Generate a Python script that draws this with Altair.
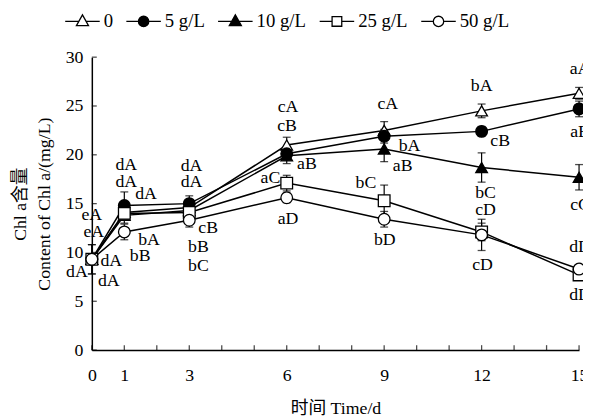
import altair as alt
import pandas as pd

# ---------------- data ----------------
days = [0, 1, 3, 6, 9, 12, 15]
series_names = ["0", "5 g/L", "10 g/L", "25 g/L", "50 g/L"]

chl_0 = [9.3, 14.1, 14.6, 21.0, 22.5, 24.5, 26.3]
chl_5 = [9.3, 14.8, 15.0, 20.1, 21.9, 22.4, 24.7]
chl_10 = [9.3, 13.8, 14.3, 19.9, 20.6, 18.7, 17.7]
chl_25 = [9.3, 14.0, 14.1, 17.1, 15.3, 12.1, 7.7]
chl_50 = [9.3, 12.1, 13.3, 15.6, 13.4, 11.8, 8.3]

err_0 = [1.5, 0.6, 0.5, 0.8, 0.9, 0.7, 0.6]
err_5 = [0.3, 1.4, 0.8, 0.6, 0.7, 0.5, 0.8]
err_10 = [0.3, 0.8, 0.5, 0.8, 1.3, 1.5, 1.3]
err_25 = [0.3, 0.5, 0.5, 0.8, 1.6, 0.9, 0.3]
err_50 = [1.5, 0.8, 0.7, 0.5, 0.8, 1.6, 0.4]

# significance letters (day position, value position, text)
ann_x = [0.0, 0.06, 0.6, 0.52, -0.46,
         1.06, 1.06, 1.67, 1.76, 1.49,
         3.07, 3.07, 3.58, 3.28, 3.28,
         6.04, 6.01, 6.62, 5.5, 6.04,
         9.11, 9.78, 9.57, 8.44, 9.02,
         12.0, 12.57, 12.12, 12.12, 12.03,
         15.03, 15.03, 15.03, 15.03, 15.03]
ann_y = [13.8, 12.1, 9.1, 7.1, 8.0,
         19.0, 17.2, 16.0, 11.3, 9.6,
         18.8, 17.2, 12.5, 10.6, 8.6,
         24.9, 22.9, 19.1, 17.6, 13.4,
         25.2, 20.9, 18.8, 17.1, 11.3,
         27.0, 21.4, 16.1, 14.3, 8.7,
         28.8, 22.3, 14.9, 10.6, 5.6]
ann_text = ["eA", "eA", "dA", "dA", "dA",
            "dA", "dA", "dA", "bA", "bB",
            "dA", "dA", "cB", "bB", "bC",
            "cA", "cB", "aB", "aC", "aD",
            "cA", "bA", "aB", "bC", "bD",
            "bA", "cB", "bC", "cD", "cD",
            "aA", "aB", "cC", "dD", "dD"]

x_tick_vals = list(range(0, 16))
y_tick_vals = [0, 5, 10, 15, 20, 25, 30]
x_label_vals = [0, 1, 3, 6, 9, 12, 15]

# ---------------- tables ----------------
vals = [chl_0, chl_5, chl_10, chl_25, chl_50]
errs = [err_0, err_5, err_10, err_25, err_50]
rows = []
for name, v, e in zip(series_names, vals, errs):
    for d, vv, ee in zip(days, v, e):
        rows.append({"day": d, "chl": vv, "lo": vv - ee, "hi": vv + ee, "series": name})
df = pd.DataFrame(rows)
ann_df = pd.DataFrame({"x": ann_x, "y": ann_y, "t": ann_text})
xt_df = pd.DataFrame({"v": x_tick_vals})
yt_df = pd.DataFrame({"v": y_tick_vals})

FONT = "Liberation Serif, Noto Sans CJK SC"

xscale = alt.Scale(domain=[0, 15], nice=False, zero=False)
yscale = alt.Scale(domain=[0, 30], nice=False)

xenc = alt.X("day:Q", scale=xscale,
             axis=alt.Axis(values=x_label_vals, ticks=False, grid=False, labelPadding=17,
                           labelFlush=False, labelOverlap=False,
                           title="时间 Time/d", titlePadding=15, format="d"))
yenc = alt.Y("chl:Q", scale=yscale,
             axis=alt.Axis(values=y_tick_vals, ticks=False, grid=False, labelPadding=9,
                           labelFlush=False,
                           title=["Chl a含量", "Content of Chl a/(mg/L)"], titlePadding=12,
                           titleLineHeight=24))

base = alt.Chart(df)

lines = base.mark_line(color="black", strokeWidth=1.5).encode(
    x=xenc, y=yenc, detail="series:N")

rules = base.mark_rule(color="black", strokeWidth=1.2).encode(
    x="day:Q", y="lo:Q", y2="hi:Q")
cap_lo = base.mark_tick(color="black", orient="horizontal", size=8, thickness=1.3).encode(
    x="day:Q", y="lo:Q")
cap_hi = base.mark_tick(color="black", orient="horizontal", size=8, thickness=1.3).encode(
    x="day:Q", y="hi:Q")

pt_shapes = ["triangle-up", "circle", "triangle-up", "square", "circle"]
pt_fills = ["white", "black", "black", "white", "white"]

points = base.mark_point(filled=True, size=140, stroke="black", strokeWidth=1.3, opacity=1).encode(
    x="day:Q", y="chl:Q",
    shape=alt.Shape("series:N", scale=alt.Scale(domain=series_names, range=pt_shapes), legend=None),
    fill=alt.Fill("series:N", scale=alt.Scale(domain=series_names, range=pt_fills), legend=None),
)

# legend symbols: line stub + marker
L = "M -1 0 L -{a} 0 M {a} 0 L 1 0 "
tri = L.format(a=0.21) + "M 0 -0.38 L 0.35 0.25 L -0.35 0.25 Z"
circ = L.format(a=0.3) + "M 0.3 0 A 0.3 0.3 0 1 1 -0.3 0 A 0.3 0.3 0 1 1 0.3 0 Z"
sq = L.format(a=0.28) + "M -0.28 -0.28 L 0.28 -0.28 L 0.28 0.28 L -0.28 0.28 Z"
leg_shapes = [tri, circ, tri, sq, circ]

leg = alt.Legend(orient="none", legendX=-28, legendY=-55, direction="horizontal", title=None,
                 symbolSize=1225, symbolStrokeColor="black", symbolStrokeWidth=1.3,
                 labelFont=FONT, labelFontSize=19, labelColor="black", labelOffset=3,
                 columnPadding=10, symbolOpacity=1)

legend_layer = base.transform_filter("false").mark_point(filled=True, strokeWidth=1.3).encode(
    x="day:Q", y="chl:Q",
    shape=alt.Shape("series:N", scale=alt.Scale(domain=series_names, range=leg_shapes), legend=leg),
    fill=alt.Fill("series:N", scale=alt.Scale(domain=series_names, range=pt_fills), legend=leg),
    stroke=alt.Stroke("series:N", scale=alt.Scale(domain=series_names, range=["black"] * 5), legend=leg),
)

yticks = alt.Chart(yt_df).mark_tick(color="black", orient="horizontal", size=5, thickness=1.3,
                                    xOffset=2.5).encode(y="v:Q", x=alt.datum(0))
xticks = alt.Chart(xt_df).mark_tick(color="black", orient="vertical", size=5, thickness=1.3,
                                    yOffset=-2.5).encode(x="v:Q", y=alt.datum(0))

texts = alt.Chart(ann_df).mark_text(font=FONT, fontSize=18, color="black",
                                    align="center", baseline="middle").encode(
    x="x:Q", y="y:Q", text="t:N")

chart = alt.layer(lines, rules, cap_lo, cap_hi, points, xticks, yticks, texts, legend_layer).resolve_scale(
    shape="independent", fill="independent", stroke="independent"
).properties(
    width=494, height=297,
    background="white",
    autosize=alt.AutoSizeParams(type="none"),
    padding={"left": 85, "top": 47, "right": 4, "bottom": 66},
).configure_view(stroke=None).configure_axis(
    domainColor="black", domainWidth=1.5, labelFont=FONT, labelFontSize=18, labelColor="black",
    titleFont=FONT, titleFontSize=18, titleColor="black", titleFontWeight="normal",
)

chart.save("out.html", embed_options={"renderer": "svg", "actions": False})
